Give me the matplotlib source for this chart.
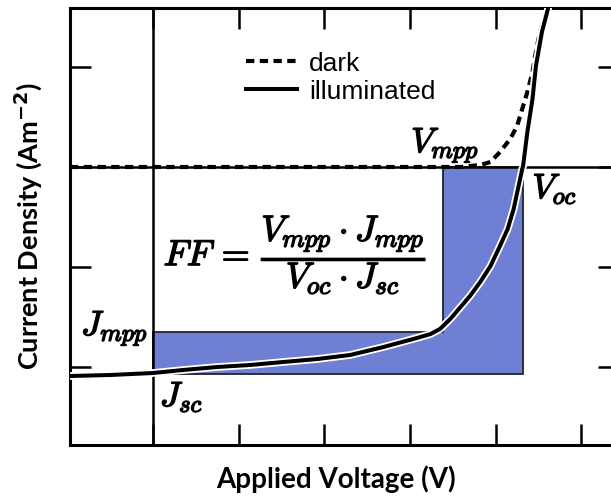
"""
Fill-factor sketch: dark and illuminated J-V curves of a solar cell with the
max-power rectangle (blue L-shaped region) and the FF formula.
"""

import matplotlib

matplotlib.use("Agg")
import matplotlib.pyplot as plt
import matplotlib.patheffects as pe

plt.rcParams["mathtext.fontset"] = "cm"

# ---- data (axis units = tick spacing) -------------------------------------

v_illum = [-0.97, -0.50, 0.00, 0.35, 0.75, 1.13, 1.52, 1.92, 2.30, 2.69,
           3.08, 3.24, 3.35, 3.47, 3.59, 3.70, 3.82, 3.94, 4.05, 4.14,
           4.21, 4.26, 4.31, 4.32, 4.37, 4.43, 4.47, 4.54, 4.61]
j_illum = [-2.09, -2.08, -2.06, -2.03, -2.00, -1.98, -1.95, -1.92, -1.88,
           -1.80, -1.71, -1.67, -1.62, -1.52, -1.40, -1.29, -1.15, -0.99,
           -0.79, -0.62, -0.42, -0.22, -0.02, 0.01, 0.35, 0.68, 1.01, 1.35,
           1.58]

v_dark = [-0.97, 3.59, 3.70, 3.82, 3.94, 4.05, 4.17, 4.25, 4.31, 4.37,
          4.43, 4.46, 4.50, 4.56, 4.60]
j_dark = [0.00, 0.00, 0.01, 0.02, 0.05, 0.15, 0.28, 0.41, 0.58, 0.75,
          0.95, 1.11, 1.28, 1.48, 1.58]

J_SC = -2.07
J_MPP = -1.65
V_MPP = 3.38
V_OC = 4.32

x_ticks = [0, 1, 2, 3, 4, 5]
y_ticks = [-2, -1, 0, 1]

FILL_BLUE = "#6f7fd4"

# ---- figure ---------------------------------------------------------------

fig = plt.figure(figsize=(6.11, 5.02), dpi=100)
ax = fig.add_axes([70 / 611, 56 / 502, 549 / 611, 437 / 502])
ax.set_xlim(-0.97, 5.44)
ax.set_ylim(-2.78, 1.59)

# L-shaped region: Voc x Jsc rectangle minus the Vmpp x Jmpp rectangle
region_v = [0, V_OC, V_OC, V_MPP, V_MPP, 0]
region_j = [J_SC, J_SC, 0, 0, J_MPP, J_MPP]
ax.fill(region_v, region_j, facecolor=FILL_BLUE, edgecolor="#222222",
        linewidth=1.3, zorder=1)

# axis cross lines
ax.axhline(0, color="black", linewidth=1.8, zorder=2)
ax.axvline(0, color="black", linewidth=1.8, zorder=2)

ax.plot(v_dark, j_dark, color="black", linewidth=3.0, linestyle=(0, (2.0, 1.3)),
        label="dark", zorder=3)
ax.plot(v_illum, j_illum, color="black", linewidth=2.9, label="illuminated",
        zorder=4, solid_joinstyle="round",
        path_effects=[pe.Stroke(linewidth=5.5, foreground="white"),
                      pe.Normal()])

# ticks on all four sides, pointing in, no labels
ax.set_xticks(x_ticks)
ax.set_yticks(y_ticks)
ax.tick_params(direction="in", length=15, width=1.8, top=True, right=True,
               labelbottom=False, labelleft=False)
for spine in ax.spines.values():
    spine.set_linewidth(2.2)

# legend
leg = ax.legend(loc="upper left", bbox_to_anchor=(0.32, 0.902), frameon=False,
                prop={"family": "Liberation Sans", "size": 19},
                handlelength=1.95, handletextpad=0.45, labelspacing=0.15,
                borderpad=0, borderaxespad=0)

# math annotations
bold_fx = [pe.withStroke(linewidth=1.0, foreground="black")]
label_kw = dict(fontsize=25, path_effects=bold_fx, zorder=5)
ax.text(3.41, 0.02, r"$V_{mpp}$", ha="center", va="bottom", **label_kw)
ax.text(4.43, -0.22, r"$V_{oc}$", ha="left", va="center", **label_kw)
ax.text(-0.06, -1.62, r"$J_{mpp}$", ha="right", va="center", **label_kw)
ax.text(0.08, -2.30, r"$J_{sc}$", ha="left", va="center", **label_kw)
ax.text(1.66, -0.88,
        r"$FF\,=\,\dfrac{V_{mpp}\cdot J_{mpp}}{V_{oc}\cdot J_{sc}}$",
        ha="center", va="center", fontsize=26, path_effects=bold_fx, zorder=5)

# axis titles
ax.set_xlabel("Applied Voltage (V)", fontsize=20, fontweight="bold",
              family="Lato")
ax.xaxis.set_label_coords((336 - 70) / 549, (446 - 479) / 437)
ax.xaxis.label.set_va("center")
ax.set_ylabel(r"Current Density (Am$^{\mathbf{-2}}$)", fontsize=19.5,
              fontweight="bold", family="Lato", math_fontfamily="dejavusans")
ax.yaxis.set_label_coords((28 - 70) / 549, (446 - 226) / 437)
ax.yaxis.label.set_va("center")

fig.savefig("out.png", dpi=100)
plt.close(fig)
